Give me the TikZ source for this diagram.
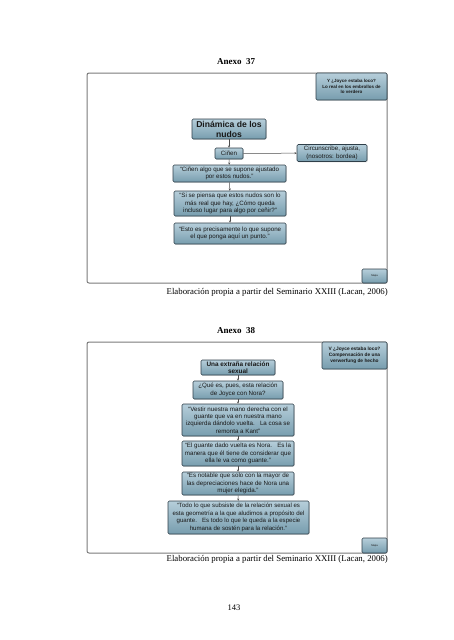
\documentclass[tikz,border=0pt]{standalone}
\usepackage{fontspec}
\setmainfont{Liberation Serif}
\setsansfont{Liberation Sans}
\usepackage{xcolor}
\usepackage{tikz}
\usetikzlibrary{positioning,arrows.meta,shadows}

\definecolor{boxtop}{HTML}{B6CEDA}
\definecolor{boxbot}{HTML}{779DAE}
\definecolor{boxline}{HTML}{2F3F49}
\definecolor{framegray}{HTML}{7A7A7A}

\newcommand{\fsz}[2]{\fontsize{#1}{#2}\selectfont}

\begin{document}
\begin{tikzpicture}[x=1pt,y=-1pt,
  flowbox/.style={draw=boxline, line width=0.6pt, rounded corners=1.2pt,
    top color=boxtop, bottom color=boxbot, text=black!90,
    align=center, inner sep=0.5pt, font=\sffamily\fsz{6.2}{7.4},
    drop shadow={opacity=0.25, shadow xshift=0.8pt, shadow yshift=-0.8pt}},
  titlebox/.style={flowbox, font=\sffamily\bfseries\fsz{8.6}{10}},
  cornerbox/.style={flowbox, font=\sffamily\bfseries\fsz{4.5}{5.6}},
  tinybox/.style={flowbox, font=\sffamily\fsz{2.6}{3}},
  conn/.style={-{Stealth[length=2.2pt,width=2pt]}, line width=0.5pt, draw=black!70},
  frame/.style={draw=framegray, line width=1pt, rounded corners=2pt},
  heading/.style={font=\bfseries\fsz{9}{11}},
  caption/.style={font=\fsz{8.8}{10}, anchor=east, inner sep=0pt}]
  \useasboundingbox (0,0) rectangle (453,640);

  % Anexo 37
  \node[heading] (h37) at (236,62) {Anexo\ \ 37};
  \draw[frame] (87,73) rectangle (387,283);
  \node[cornerbox, minimum width=71pt, minimum height=27pt] (tr37) at (351.5,86.5)
    {Y ¿Joyce estaba loco?\\Lo real en los embrollos de\\lo verdero};
  \node[tinybox, minimum width=25pt, minimum height=14pt] (br37) at (374.5,276) {Mapa};

  \node[titlebox, minimum width=74pt, minimum height=20pt] (nudos) at (229,129)
    {Dinámica de los\\nudos};
  \node[flowbox, minimum width=28pt, minimum height=11pt] (cinen) at (229,153.5) {Ciñen};
  \node[flowbox, minimum width=70pt, minimum height=17pt] (circ) at (332,153)
    {Circunscribe, ajusta,\\(nosotros: bordea)};
  \node[flowbox, minimum width=113pt, minimum height=17pt] (ajust) at (229.5,173.5)
    {“Ciñen algo que se supone ajustado\\por estos nudos.”};
  \node[flowbox, minimum width=112pt, minimum height=25pt] (real) at (230,203.5)
    {“Si se piensa que estos nudos son lo\\más real que hay, ¿Cómo queda\\incluso lugar para algo por ceñir?”};
  \node[flowbox, minimum width=112pt, minimum height=21pt] (punto) at (230,233.5)
    {“Esto es precisamente lo que supone\\el que ponga aquí un punto.”};

  \draw[conn] (nudos) -- (cinen);
  \draw[conn] (cinen) -- (circ);
  \draw[conn] (cinen) -- (ajust);
  \draw[conn] (ajust) -- (real);
  \draw[conn] (real) -- (punto);

  \node[caption] (cap37) at (388,292)
    {Elaboración propia a partir del Seminario XXIII (Lacan, 2006)};

  % Anexo 38
  \node[heading] (h38) at (236,331) {Anexo\ \ 38};
  \draw[frame] (87,342) rectangle (387,553);
  \node[cornerbox, font=\sffamily\bfseries\fsz{4.8}{6}, minimum width=65pt, minimum height=27pt]
    (tr38) at (354.5,355.5) {V ¿Joyce estaba loco?\\Compensación de una\\verwerfung de hecho};
  \node[tinybox, minimum width=25pt, minimum height=15pt] (br38) at (374.5,545.5) {Mapa};

  \node[flowbox, font=\sffamily\bfseries\fsz{6.4}{7.5}, minimum width=74pt, minimum height=15pt]
    (extrana) at (238,367.5) {Una extraña relación\\sexual};
  \node[flowbox, minimum width=90pt, minimum height=18pt] (nora) at (238,390)
    {¿Qué es, pues, esta relación\\de Joyce con Nora?};
  \node[flowbox, minimum width=112pt, minimum height=32pt] (vestir) at (238,420)
    {“Vestir nuestra mano derecha con el\\guante que va en nuestra mano\\izquierda dándolo vuelta.\ \ \ La cosa se\\remonta a Kant”};
  \node[flowbox, minimum width=112pt, minimum height=25pt] (guante) at (238,453.5)
    {“El guante dado vuelta es Nora.\ \ \ Es la\\manera que él tiene de considerar que\\ella le va como guante.”};
  \node[flowbox, minimum width=112pt, minimum height=23pt] (elegida) at (238,483.5)
    {“Es notable que solo con la mayor de\\las depreciaciones hace de Nora una\\mujer elegida.”};
  \node[flowbox, font=\sffamily\fsz{6.1}{7.5}, minimum width=141pt, minimum height=33pt] (geom) at (238.5,517.5)
    {“Todo lo que subsiste de la relación sexual es\\esta geometría a la que aludimos a propósito del\\guante.\ \ \ Es todo lo que le queda a la especie\\humana de sostén para la relación.”};

  \draw[conn] (extrana) -- (nora);
  \draw[conn] (nora) -- (vestir);
  \draw[conn] (vestir) -- (guante);
  \draw[conn] (guante) -- (elegida);
  \draw[conn] (elegida) -- (geom);

  \node[caption] (cap38) at (388,559)
    {Elaboración propia a partir del Seminario XXIII (Lacan, 2006)};

  % page number
  \node[font=\fsz{8.5}{10}] (page) at (234,608) {143};
\end{tikzpicture}
\end{document}
